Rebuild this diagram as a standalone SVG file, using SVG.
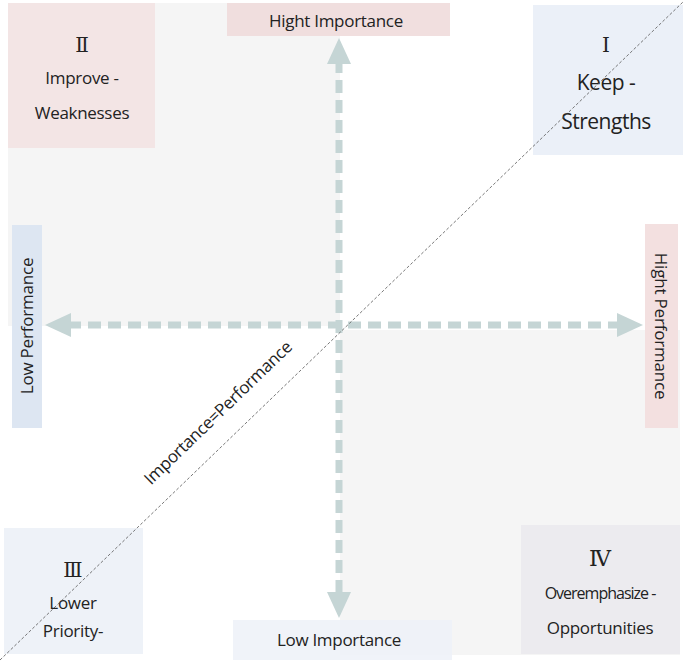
<svg xmlns="http://www.w3.org/2000/svg" width="685" height="662" viewBox="0 0 685 662">
<style>
text{font-family:"Open Sans","Noto Sans",sans-serif;fill:#222;text-anchor:middle}
text.rn{font-family:"DejaVu Serif","Noto Serif",serif}
.ax{stroke:#c5d5d5;stroke-width:7;stroke-dasharray:13 7;fill:none}
.ah{fill:#c5d5d5}
</style>
<rect width="685" height="662" fill="#fff"/>
<rect x="8" y="3" width="332" height="323" fill="#f5f5f5"/>
<rect x="340" y="330" width="340" height="325" fill="#f5f5f5"/>
<g id="connectors">
<line class="ax" x1="339" y1="60" x2="339" y2="600"/>
<polygon class="ah" points="339,38 327,64 351,64"/>
<polygon class="ah" points="339,618 327,592 351,592"/>
<line class="ax" x1="68" y1="325" x2="620" y2="325"/>
<polygon class="ah" points="45,325 71,313 71,337"/>
<polygon class="ah" points="643,325 617,313 617,337"/>
</g>
<g id="q2"><rect x="8" y="3" width="147" height="145" fill="#f3e3e3" opacity="0.9"/>
<text class="rn" x="82" y="52" font-size="20">Ⅱ</text>
<text x="82" y="84" font-size="17" letter-spacing="-0.3">Improve -</text><text x="82" y="119" font-size="17" letter-spacing="-0.3">Weaknesses</text></g>
<g id="hi"><rect x="227" y="3" width="223" height="33" fill="#f0dcdc" opacity="0.9"/><text x="336" y="27" font-size="17" letter-spacing="-0.3">Hight Importance</text></g>
<g id="q1"><rect x="533" y="5" width="150" height="150" fill="#ebf0f8"/>
<text class="rn" x="606" y="52" font-size="20">Ⅰ</text>
<text x="606" y="90" font-size="21" letter-spacing="-0.5">Keep -</text><text x="606" y="129" font-size="21" letter-spacing="-0.5">Strengths</text></g>
<g id="lp"><rect x="12" y="225" width="30" height="203" fill="#dde6f2"/><text transform="translate(33,326) rotate(-90)" font-size="17" letter-spacing="-0.2">Low Performance</text></g>
<g id="hp"><rect x="645" y="224" width="33" height="204" fill="#f3e0e0"/><text transform="translate(655,326) rotate(90)" font-size="17" letter-spacing="-0.2">Hight Performance</text></g>
<g id="q3"><rect x="4" y="528" width="139" height="126" fill="#eef2f8"/>
<text class="rn" x="73" y="577" font-size="20">Ⅲ</text>
<text x="73" y="609" font-size="17" letter-spacing="-0.3">Lower</text><text x="73" y="637" font-size="17" letter-spacing="-0.3">Priority-</text></g>
<g id="li"><rect x="233" y="620" width="219" height="40" fill="#eef2f8" opacity="0.9"/><text x="339" y="646" font-size="17" letter-spacing="-0.3">Low Importance</text></g>
<g id="q4"><rect x="521" y="525" width="159" height="129" fill="#ecebef"/>
<text class="rn" x="600" y="566" font-size="22">Ⅳ</text>
<text x="600" y="599" font-size="16" letter-spacing="-1">Overemphasize -</text><text x="600" y="634" font-size="17" letter-spacing="-0.3">Opportunities</text></g>
<g id="diag"><line x1="0" y1="660" x2="683" y2="2" stroke="#555" stroke-width="0.8" stroke-dasharray="3 2"/>
<text transform="translate(222,417) rotate(-44)" font-size="17" letter-spacing="-0.3">Importance=Performance</text></g>
</svg>
